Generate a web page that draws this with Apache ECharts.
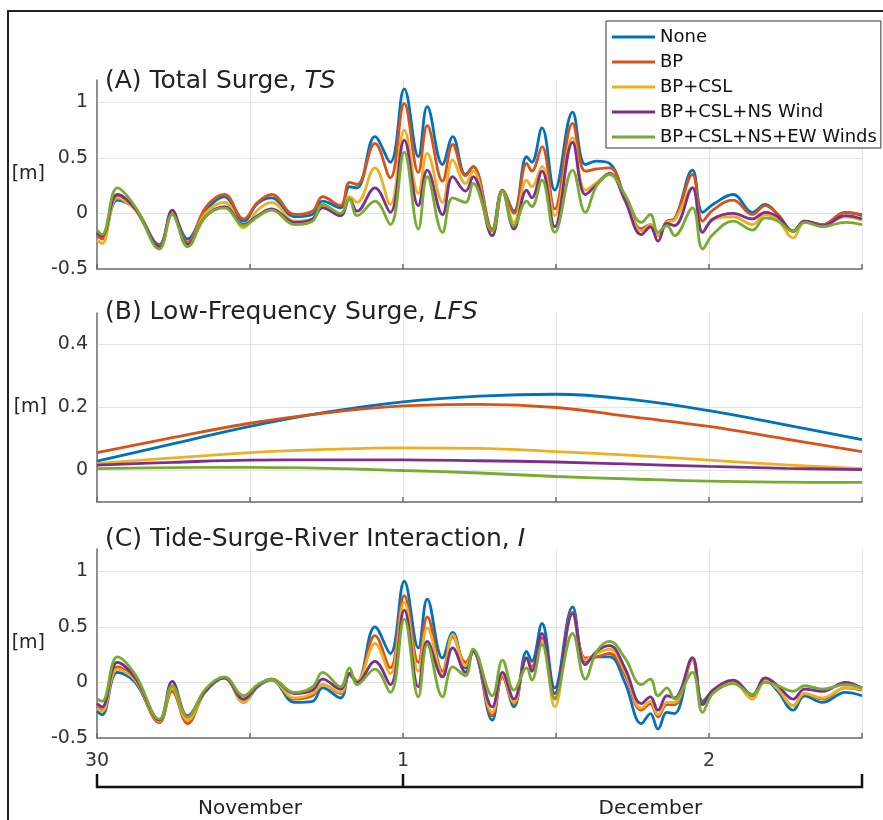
<!DOCTYPE html>
<html><head><meta charset="utf-8">
<script src="https://cdn.jsdelivr.net/npm/echarts@6/dist/echarts.min.js"></script>
<style>html,body{margin:0;padding:0;background:#fff}#c{width:883px;height:820px}</style>
</head><body><div id="c"></div>
<script>
// ---------- DATA ----------
const seriesNames = ['None', 'BP', 'BP+CSL', 'BP+CSL+NS Wind', 'BP+CSL+NS+EW Winds'];
// hours after 30 Nov 00:00
const hoursAC = [0,0.4,1.6,3.0,4.9,5.9,7.1,8.5,10.0,11.5,12.6,13.7,15.5,16.9,17.7,19.1,19.8,20.4,21.8,23.0,
  24.1,25.2,25.9,27.1,27.9,28.9,29.5,31.0,31.8,32.7,33.7,34.1,34.9,35.9,37.3,38.3,39.2,40.2,41.4,42.7,
  43.4,44.0,44.7,45.3,46.7,47.5,48.3,49.9,51.4,52.4,53.4,54.6,55.5,56.9,58.7,60.0];
const hoursB = [0,6,12,18,24,30,36,42,48,54,60];

// (A) Total Surge, TS
const tsNone = [-0.18,-0.22,0.12,0.04,-0.28,0.0,-0.23,0.02,0.15,-0.07,0.09,0.14,-0.03,-0.01,0.11,0.05,0.24,0.23,0.69,0.46,
  1.12,0.51,0.96,0.44,0.69,0.35,0.42,-0.15,0.21,0.02,0.51,0.46,0.77,0.21,0.91,0.44,0.47,0.45,0.15,-0.14,
  -0.1,-0.2,-0.07,-0.05,0.39,0.01,0.08,0.17,0.01,0.08,-0.01,-0.16,-0.07,-0.1,0.01,-0.02];
const tsBP = [-0.2,-0.23,0.16,0.05,-0.29,0.0,-0.26,0.05,0.17,-0.05,0.1,0.17,-0.01,0.02,0.15,0.07,0.28,0.26,0.63,0.32,
  0.99,0.37,0.79,0.29,0.62,0.34,0.42,-0.14,0.21,0.0,0.45,0.38,0.6,0.04,0.81,0.38,0.4,0.41,0.15,-0.14,
  -0.1,-0.2,-0.07,-0.05,0.35,-0.07,0.03,0.12,-0.01,0.07,-0.01,-0.16,-0.07,-0.1,0.01,-0.01];
const tsCSL = [-0.24,-0.27,0.14,0.03,-0.3,0.0,-0.28,0.0,0.1,-0.13,0.03,0.1,-0.07,-0.05,0.07,-0.02,0.15,0.1,0.41,0.08,
  0.75,0.18,0.54,0.1,0.48,0.27,0.38,-0.2,0.2,-0.08,0.3,0.24,0.42,-0.02,0.68,0.21,0.28,0.36,0.13,-0.16,
  -0.1,-0.2,-0.08,-0.06,0.23,-0.17,-0.06,-0.03,-0.1,-0.01,-0.06,-0.22,-0.08,-0.11,-0.03,-0.06];
const tsNS = [-0.17,-0.2,0.17,0.04,-0.3,0.03,-0.28,-0.03,0.06,-0.1,-0.02,0.04,-0.08,-0.05,0.05,-0.02,0.13,0.02,0.23,0.01,
  0.66,0.07,0.39,-0.01,0.33,0.2,0.33,-0.2,0.2,-0.14,0.21,0.14,0.38,-0.12,0.64,0.17,0.26,0.36,0.12,-0.19,
  -0.12,-0.25,-0.09,-0.11,0.23,-0.17,-0.05,0.0,-0.05,0.01,-0.03,-0.16,-0.07,-0.11,-0.02,-0.05];
const tsEW = [-0.15,-0.19,0.23,0.06,-0.32,-0.01,-0.3,-0.03,0.05,-0.11,-0.03,0.03,-0.1,-0.07,0.08,0.0,0.13,-0.02,0.11,-0.1,
  0.55,-0.14,0.33,-0.17,0.14,0.1,0.27,-0.16,0.2,-0.11,0.11,0.06,0.3,-0.17,0.39,0.01,0.25,0.35,0.17,-0.08,
  -0.01,-0.17,-0.11,-0.2,0.05,-0.32,-0.19,-0.07,-0.15,-0.04,-0.07,-0.16,-0.08,-0.12,-0.08,-0.1];

// (B) Low-Frequency Surge, LFS
const lfsNone = [0.03,0.085,0.14,0.185,0.218,0.236,0.242,0.225,0.19,0.145,0.098];
const lfsBP   = [0.057,0.105,0.15,0.183,0.205,0.21,0.2,0.17,0.14,0.1,0.06];
const lfsCSL  = [0.022,0.04,0.057,0.067,0.072,0.07,0.06,0.048,0.033,0.018,0.006];
const lfsNS   = [0.017,0.026,0.033,0.034,0.034,0.031,0.027,0.02,0.013,0.007,0.003];
const lfsEW   = [0.006,0.009,0.01,0.007,0.0,-0.008,-0.019,-0.027,-0.034,-0.037,-0.038];

// (C) Tide-Surge-River Interaction, I
const iNone = [-0.26,-0.29,0.09,0.0,-0.36,-0.05,-0.34,-0.08,0.04,-0.18,-0.04,0.02,-0.18,-0.17,-0.05,-0.14,0.07,0.0,0.5,0.26,
  0.91,0.31,0.75,0.22,0.45,0.13,0.28,-0.34,0.06,-0.22,0.28,0.19,0.53,-0.05,0.68,0.19,0.23,0.23,0.0,-0.37,
  -0.28,-0.42,-0.27,-0.28,0.22,-0.17,-0.08,0.01,-0.12,0.02,-0.08,-0.25,-0.12,-0.18,-0.09,-0.12];
const iBP = [-0.22,-0.25,0.14,0.02,-0.36,-0.08,-0.37,-0.08,0.04,-0.16,-0.03,0.03,-0.15,-0.12,-0.02,-0.1,0.08,0.01,0.42,0.13,
  0.78,0.18,0.59,0.1,0.41,0.18,0.28,-0.3,0.05,-0.19,0.22,0.14,0.4,-0.15,0.63,0.22,0.23,0.26,0.07,-0.25,
  -0.19,-0.31,-0.2,-0.2,0.2,-0.19,-0.08,0.01,-0.12,0.03,-0.06,-0.21,-0.1,-0.15,-0.05,-0.07];
const iCSL = [-0.23,-0.26,0.12,0.02,-0.35,-0.05,-0.34,-0.08,0.04,-0.18,-0.03,0.02,-0.14,-0.1,-0.02,-0.09,0.08,0.01,0.35,0.08,
  0.72,0.1,0.49,0.07,0.43,0.15,0.28,-0.27,0.07,-0.18,0.22,0.12,0.36,-0.22,0.62,0.2,0.26,0.3,0.1,-0.23,
  -0.17,-0.29,-0.18,-0.18,0.2,-0.2,-0.08,0.0,-0.15,0.02,-0.06,-0.21,-0.1,-0.14,-0.05,-0.06];
const iNS = [-0.19,-0.22,0.18,0.04,-0.34,0.01,-0.3,-0.08,0.04,-0.15,-0.03,0.03,-0.1,-0.07,0.03,-0.06,0.08,0.0,0.19,-0.02,
  0.65,-0.04,0.37,0.05,0.31,0.09,0.28,-0.22,0.09,-0.15,0.22,0.1,0.44,-0.1,0.62,0.16,0.28,0.33,0.13,-0.19,
  -0.13,-0.25,-0.12,-0.14,0.22,-0.2,-0.07,0.02,-0.11,0.04,-0.03,-0.15,-0.06,-0.08,0.0,-0.05];
const iEW = [-0.15,-0.17,0.23,0.07,-0.33,-0.03,-0.31,-0.06,0.05,-0.12,-0.02,0.03,-0.09,-0.04,0.09,-0.04,0.13,-0.02,0.12,-0.09,
  0.57,-0.13,0.34,-0.13,0.14,0.06,0.3,-0.12,0.2,-0.07,0.13,0.02,0.34,-0.14,0.44,0.03,0.28,0.37,0.22,-0.02,
  0.03,-0.12,-0.05,-0.15,0.09,-0.27,-0.1,-0.01,-0.11,0.0,-0.03,-0.08,-0.03,-0.06,-0.02,-0.05];

const dayTickLabels = {0: '30', 24: '1', 48: '2'};
const monthLabels = ['November', 'December'];
const monthCenters = [12, 43.4];
const panelTitles = [['(A) Total Surge, ', 'TS'], ['(B) Low-Frequency Surge, ', 'LFS'], ['(C) Tide-Surge-River Interaction, ', 'I']];

// ---------- CHART ----------
const colors = ['#0072BD', '#D95319', '#EDB120', '#7E2F8E', '#77AC30'];
const FONT = 'DejaVu Sans';
const axisGray = '#6b6b6b';
const gridGray = '#e4e4e4';
const tops = [80, 313, 549];
const H = 189;

const panels = [
  {hours: hoursAC, sets: [tsNone, tsBP, tsCSL, tsNS, tsEW]},
  {hours: hoursB, sets: [lfsNone, lfsBP, lfsCSL, lfsNS, lfsEW]},
  {hours: hoursAC, sets: [iNone, iBP, iCSL, iNS, iEW]}
];

const series = [];
panels.forEach((p, gi) => {
  p.sets.forEach((arr, k) => {
    series.push({
      name: seriesNames[k], type: 'line', xAxisIndex: gi, yAxisIndex: gi,
      data: p.hours.map((h, i) => [h, arr[i]]),
      symbol: 'none', showSymbol: false, smooth: 0.4,
      lineStyle: {width: 2.8, color: colors[k]}, itemStyle: {color: colors[k]},
      silent: true
    });
  });
});

const fmtNum = v => { const r = Math.round(v * 10) / 10; return String(r); };

const xAxes = [0, 1, 2].map(gi => ({
  type: 'value', gridIndex: gi, min: 0, max: 60, interval: 12,
  axisLine: {show: true, onZero: false, lineStyle: {color: axisGray, width: 1.5}},
  axisTick: {show: true, inside: true, length: 5, lineStyle: {color: axisGray, width: 1.5}},
  axisLabel: {show: gi === 2, margin: 14, fontSize: 19, fontFamily: FONT, color: '#333',
    formatter: v => dayTickLabels[Math.round(v)] || ''},
  splitLine: {show: true, showMinLine: false, lineStyle: {color: gridGray, width: 1}}
}));

const yName = {name: '[m]', nameLocation: 'middle', nameRotate: 0, nameGap: 50,
  nameTextStyle: {fontFamily: FONT, fontSize: 19, color: '#222'}};

const yAxes = [0, 1, 2].map(gi => {
  const base = Object.assign({type: 'value', gridIndex: gi,
    axisLine: {show: true, onZero: false, lineStyle: {color: axisGray, width: 1.5}},
    axisTick: {show: false}}, yName);
  if (gi === 1) {
    return Object.assign(base, {min: -0.1, max: 0.5, interval: 0.1,
      axisLabel: {margin: 9, fontSize: 19, fontFamily: FONT, color: '#333',
        formatter: v => { const r = Math.round(v * 10); return r === 0 ? '0' : r === 2 ? '0.2' : r === 4 ? '0.4' : ''; }},
      splitLine: {show: true, lineStyle: {color: ['rgba(0,0,0,0)', gridGray], width: 1}}});
  }
  return Object.assign(base, {min: -0.5, max: 1.2, interval: 0.5,
    axisLabel: {margin: 9, fontSize: 19, fontFamily: FONT, color: '#333', showMaxLabel: false,
      formatter: v => Math.abs(v - 1.2) < 1e-6 ? '' : fmtNum(v)},
    splitLine: {show: true, showMinLine: false, showMaxLine: false, lineStyle: {color: gridGray, width: 1}}});
});

const titleTops = [67, 298, 525];
const titles = panelTitles.map((t, gi) => ({
  text: '{n|' + t[0] + '}{i|' + t[1] + '}', left: 105, top: titleTops[gi], padding: 0,
  textStyle: {fontWeight: 'normal', fontFamily: FONT, fontSize: 25, rich: {
    n: {fontFamily: FONT, fontSize: 25, fontWeight: 'normal', color: '#222', lineHeight: 29},
    i: {fontFamily: FONT, fontSize: 25, fontWeight: 'normal', color: '#222', fontStyle: 'italic', lineHeight: 29}
  }}
}));

const chart = echarts.init(document.getElementById('c'), null, {renderer: 'canvas'});
const option = {
  animation: false,
  backgroundColor: '#fff',
  title: titles,
  grid: tops.map(t => ({left: 97, top: t, width: 765, height: H, containLabel: false})),
  xAxis: xAxes,
  yAxis: yAxes,
  legend: {
    orient: 'vertical', left: 606, top: 21, data: seriesNames, icon: 'rect',
    itemWidth: 43, itemHeight: 3, itemGap: 5, padding: [6, 4, 1, 6],
    backgroundColor: '#fff', borderColor: '#333', borderWidth: 1, selectedMode: false, z: 10,
    textStyle: {fontFamily: FONT, fontSize: 18, color: '#111', lineHeight: 20}
  },
  series: series
};
chart.setOption(option);

const xp = h => chart.convertToPixel({xAxisIndex: 2}, h);
const bx0 = xp(0), bx1 = xp(24), bx2 = xp(60);
const bTop = 774, bLine = 787;
chart.setOption({
  graphic: [
    {type: 'polyline', shape: {points: [[8, 820], [8, 11], [883, 11]]}, style: {stroke: '#222', lineWidth: 2, fill: null}, silent: true},
    {type: 'polyline', shape: {points: [[bx0, bTop], [bx0, bLine], [bx2, bLine], [bx2, bTop]]}, style: {stroke: '#111', lineWidth: 2.5, fill: null}, silent: true},
    {type: 'line', shape: {x1: bx1, y1: bTop, x2: bx1, y2: bLine + 1}, style: {stroke: '#111', lineWidth: 2.5}, silent: true},
    {type: 'text', x: xp(monthCenters[0]), y: 809, style: {text: monthLabels[0], fontFamily: FONT, fontSize: 20, fill: '#222', align: 'center', verticalAlign: 'middle'}, silent: true},
    {type: 'text', x: xp(monthCenters[1]), y: 809, style: {text: monthLabels[1], fontFamily: FONT, fontSize: 20, fill: '#222', align: 'center', verticalAlign: 'middle'}, silent: true}
  ]
});
</script></body></html>
